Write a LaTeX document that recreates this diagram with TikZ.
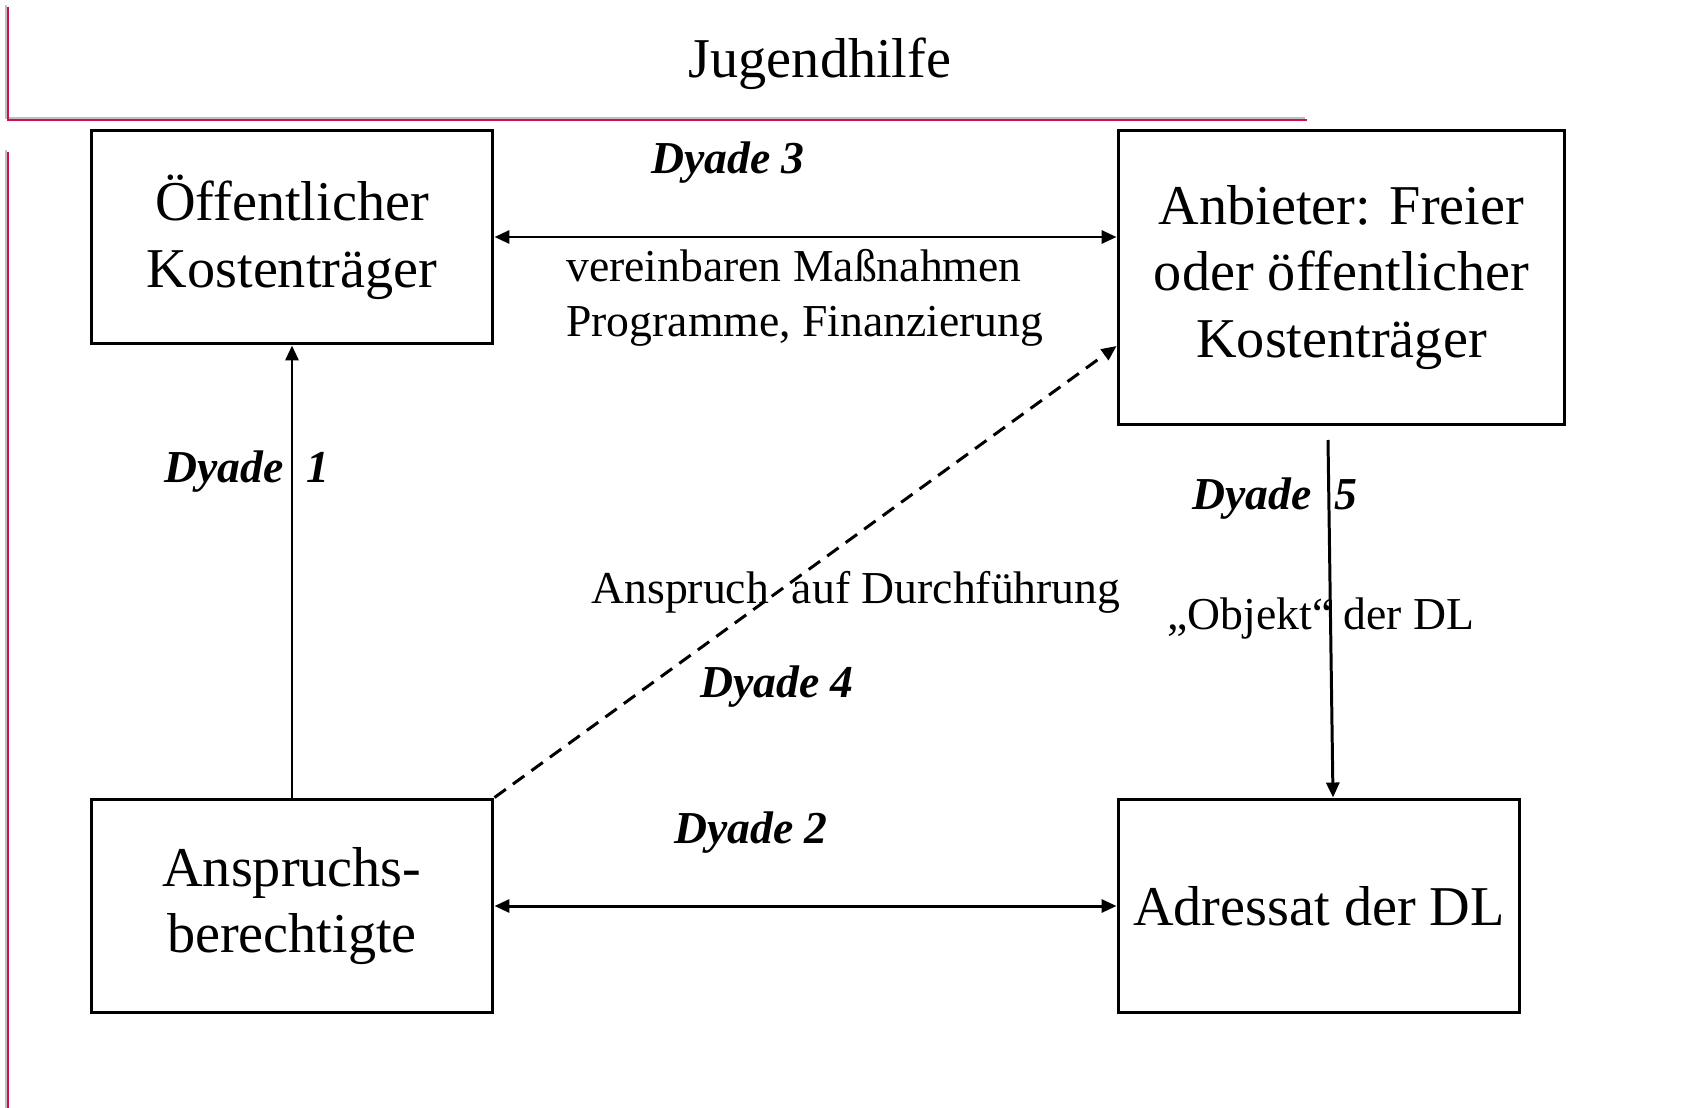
\documentclass[tikz,border=0pt]{standalone}
\usepackage{fontspec}
\setmainfont{Liberation Serif}
\usetikzlibrary{arrows.meta,calc}
\definecolor{rulered}{HTML}{D0104C}

\begin{document}
\begin{tikzpicture}[x=0.02cm, y=-0.02cm,
    box/.style={draw, line width=1.7pt, minimum width=8.04cm, minimum height=4.28cm,
        align=center, inner sep=0pt, font=\fontsize{32}{38}\selectfont},
    dyade/.style={font=\fontsize{26}{31}\selectfont\bfseries\itshape},
    note/.style={font=\fontsize{26}{31}\selectfont, align=left},
    tip/.tip={Triangle[length=0.3cm,width=0.26cm]},
    link/.style={line width=1.7pt, -tip},
    both/.style={line width=1.7pt, tip-tip}]

    \useasboundingbox (0,0) rectangle (1686,1108);

    % frame
    \draw[black!25, line width=1.1pt] (6,5) -- (6,118) -- (1305,118);
    \draw[rulered, line width=1.1pt] (8,7) -- (8,120) -- (1307,120);
    \draw[black!25, line width=1.1pt] (6,150) -- (6,1108);
    \draw[rulered, line width=1.1pt] (8,152) -- (8,1108);
    \node[font=\fontsize{32}{38}\selectfont] (title) at (820,64) {Jugendhilfe};

    % boxes
    \node[box] (kt) at (292,237) {Öffentlicher\\Kostenträger};
    \node[box, minimum width=8.94cm, minimum height=5.9cm] (anb) at (1341.5,277.5)
        {Anbieter: Freier\\oder öffentlicher\\Kostenträger};
    \node[box] (ab) at (292,906) {Anspruchs-\\berechtigte};
    \node[box] (adr) at (1319,906) {Adressat der DL};

    % dyade 3
    \draw[both] (kt.east) -- (kt.east -| anb.west);
    \node[dyade] (d3) at (728,163) {Dyade 3};
    \node[note, anchor=west] (n3) at (560,298) {vereinbaren Maßnahmen\\Programme, Finanzierung};

    % dyade 1
    \draw[link] (ab.north) -- (kt.south);
    \node[dyade] (d1) at (247,472) {Dyade\ \ 1};

    % dyade 4
    \draw[link, dash pattern=on 8pt off 5pt] (ab.north east) -- ($(anb.south west)!0.27!(anb.north west)$);
    \node[note] (n4) at (856,592) {Anspruch\ \ auf Durchführung};
    \node[dyade] (d4) at (777,687) {Dyade 4};

    % dyade 5
    \coordinate (b5) at (1328,440);
    \draw[link] (b5) -- ($(adr.north)+(14,0)$);
    \node[dyade] (d5) at (1275,499) {Dyade\ \ 5};
    \node[note] (n5) at (1321,619) {„Objekt“ der DL};

    % dyade 2
    \draw[both] (ab.east) -- (adr.west);
    \node[dyade] (d2) at (751,833) {Dyade 2};

\end{tikzpicture}
\end{document}
